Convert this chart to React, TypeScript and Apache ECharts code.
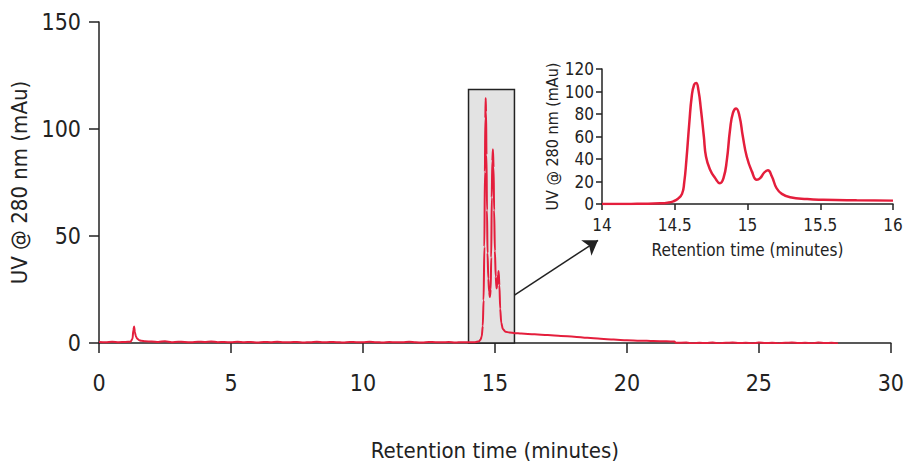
import React, { useEffect, useRef } from "react";
import * as echarts from "echarts";

// Main chromatogram (retention time in minutes, UV in mAu)
const mainTime = [
  0, 0.25, 0.5, 0.75, 1.0, 1.2, 1.27, 1.3, 1.33, 1.36, 1.4, 1.45, 1.52, 1.6, 1.75,
  2.0, 2.25, 2.5, 2.75, 3.0, 3.25, 3.5, 3.75, 4.0, 4.25, 4.5, 4.75, 5.0, 5.25, 5.5, 5.75,
  6.0, 6.25, 6.5, 6.75, 7.0, 7.25, 7.5, 7.75, 8.0, 8.25, 8.5, 8.75, 9.0, 9.25, 9.5, 9.75,
  10.0, 10.25, 10.5, 10.75, 11.0, 11.25, 11.5, 11.75, 12.0, 12.25, 12.5, 12.75, 13.0, 13.25,
  13.5, 13.75, 14.0, 14.25, 14.4, 14.45, 14.5, 14.54, 14.57, 14.6, 14.62, 14.635, 14.65,
  14.665, 14.68, 14.7, 14.72, 14.75, 14.78, 14.81, 14.84, 14.86, 14.88, 14.9, 14.925, 14.95,
  14.97, 15.0, 15.03, 15.06, 15.09, 15.12, 15.14, 15.17, 15.2, 15.24, 15.3, 15.4, 15.55,
  15.75, 16.0, 16.5, 17.0, 17.5, 18.0, 18.5, 19.0, 19.5, 20.0, 20.5, 21.0, 21.5, 21.8,
  21.85, 22.25, 22.5, 22.75, 23.0, 23.25, 23.5, 23.75, 24.0, 24.25, 24.5, 24.75, 25.0,
  25.25, 25.5, 25.75, 26.0, 26.25, 26.5, 26.75, 27.0, 27.25, 27.5, 27.75, 28.0,
];
const mainUV = [
  0.5, 0.3, 0.6, 0.4, 0.5, 0.6, 2.0, 6.0, 7.7, 5.0, 3.0, 2.0, 1.3, 1.0, 0.8,
  0.7, 0.5, 0.8, 0.4, 0.6, 0.5, 0.3, 0.6, 0.5, 0.7, 0.4, 0.5, 0.3, 0.6, 0.4, 0.5,
  0.2, 0.5, 0.4, 0.6, 0.3, 0.4, 0.5, 0.2, 0.4, 0.6, 0.3, 0.5, 0.4, 0.2, 0.5, 0.4,
  0.3, 0.6, 0.4, 0.2, 0.5, 0.3, 0.4, 0.6, 0.3, 0.2, 0.5, 0.4, 0.3, 0.5,
  0.2, 0.4, 0.3, 0.4, 0.8, 1.5, 3, 8, 20, 45, 80, 105, 114.5,
  108, 88, 62, 42, 30, 24, 21.5, 25, 40, 68, 85, 90.5, 82,
  62, 43, 31, 25.5, 27, 32, 33.6, 27, 16, 9.5, 6.5, 5.3, 4.9,
  4.6, 4.4, 4.1, 3.7, 3.3, 2.9, 2.4, 2.0, 1.6, 1.3, 1.1, 0.9, 0.8, 0.7,
  0.1, 0.2, -0.1, 0.1, 0.0, 0.2, -0.1, 0.1, 0.2, 0.0, 0.1, -0.1, 0.2,
  0.0, 0.1, -0.2, 0.1, 0.2, 0.0, 0.1, -0.1, 0.2, 0.0, 0.1, -0.2,
];

// Inset: zoom of 14–16 min
const insetTime = [
  14.0, 14.1, 14.2, 14.3, 14.4, 14.45, 14.49, 14.52, 14.55, 14.565, 14.58, 14.6, 14.617,
  14.633, 14.647, 14.663, 14.68, 14.7, 14.715, 14.743, 14.778, 14.81, 14.835, 14.858, 14.88,
  14.9, 14.922, 14.945, 14.968, 14.995, 15.03, 15.064, 15.087, 15.115, 15.14, 15.167, 15.2,
  15.236, 15.293, 15.41, 15.52, 15.75, 16.0,
];
const insetUV = [
  0, 0, 0.1, 0.2, 0.6, 1.2, 2.4, 4.5, 9, 19, 39, 72, 96,
  106, 107.6, 101, 84, 60, 42, 30.5, 23, 18.5, 23, 39, 66,
  81, 85, 78, 60, 42, 29, 21.6, 23, 28, 30, 24.6, 14,
  9, 6, 4.4, 3.8, 3.3, 3.0,
];

const mainXTicks = { min: 0, max: 30, interval: 5 };
const mainYTicks = { min: 0, max: 150, interval: 50 };
const insetXTicks = { min: 14, max: 16, interval: 0.5 };
const insetYTicks = { min: 0, max: 120, interval: 20 };

// zoom box and arrow (data units of main chart)
const zoomBox = { x0: 14, x1: 15.74, y0: 0, y1: 118.4 };
const arrowFrom = [15.74, 22.4];
const arrowTo = [18.906, 48];

const RED = "#e41e3c";
const INK = "#222222";
const FONT = "'Liberation Sans Narrow', 'DejaVu Sans Condensed', 'Roboto', sans-serif";

export default function App() {
  const ref = useRef<HTMLDivElement>(null);
  useEffect(() => {
    if (!ref.current) return;
    const chart = echarts.init(ref.current, undefined, { renderer: "svg" });
    const mainData = mainTime.map((t, i) => [t, mainUV[i]]);
    const insetData = insetTime.map((t, i) => [t, insetUV[i]]);
    const axisLine = { lineStyle: { color: INK, width: 1.5 } };
    chart.setOption({
      animation: false,
      textStyle: { fontFamily: FONT },
      grid: [
        { left: 99, top: 22, width: 795, height: 323 },
        { left: 602, top: 69, width: 291, height: 135 },
      ],
      xAxis: [
        {
          type: "value", gridIndex: 0, ...mainXTicks,
          axisLine, axisTick: { length: 10, lineStyle: { color: INK, width: 1.5 } },
          splitLine: { show: false },
          axisLabel: { fontSize: 23, color: INK, margin: 28, fontFamily: FONT },
          name: "Retention time (minutes)", nameLocation: "middle", nameGap: 96,
          nameTextStyle: { fontSize: 22, color: INK, fontFamily: FONT },
        },
        {
          type: "value", gridIndex: 1, ...insetXTicks,
          axisLine, axisTick: { length: 6, lineStyle: { color: INK, width: 1.5 } },
          splitLine: { show: false },
          axisLabel: { fontSize: 17, color: INK, margin: 12, fontFamily: FONT },
          name: "Retention time (minutes)", nameLocation: "middle", nameGap: 37,
          nameTextStyle: { fontSize: 17, color: INK, fontFamily: FONT },
        },
      ],
      yAxis: [
        {
          type: "value", gridIndex: 0, ...mainYTicks,
          axisLine: { show: true, ...axisLine },
          axisTick: { show: true, length: 10, lineStyle: { color: INK, width: 1.5 } },
          splitLine: { show: false },
          axisLabel: { fontSize: 23, color: INK, margin: 18, fontFamily: FONT },
          name: "UV @ 280 nm (mAu)", nameLocation: "middle", nameGap: 52, nameRotate: 90,
          nameTextStyle: { fontSize: 22, color: INK, fontFamily: FONT },
        },
        {
          type: "value", gridIndex: 1, ...insetYTicks,
          axisLine: { show: true, ...axisLine },
          axisTick: { show: true, length: 6, lineStyle: { color: INK, width: 1.5 } },
          splitLine: { show: false },
          axisLabel: { fontSize: 17, color: INK, margin: 8, fontFamily: FONT },
          name: "UV @ 280 nm (mAu)", nameLocation: "middle", nameGap: 38, nameRotate: 90,
          nameTextStyle: { fontSize: 16, color: INK, fontFamily: FONT },
        },
      ],
      series: [
        {
          type: "line", xAxisIndex: 0, yAxisIndex: 0, data: mainData,
          showSymbol: false, smooth: 0.3, smoothMonotone: "x",
          lineStyle: { color: RED, width: 2 },
          markArea: {
            silent: true,
            itemStyle: { color: "#e3e3e3", borderColor: INK, borderWidth: 1.5 },
            data: [[{ coord: [zoomBox.x0, zoomBox.y0] }, { coord: [zoomBox.x1, zoomBox.y1] }]],
          },
          markLine: {
            silent: true,
            symbol: ["none", "arrow"],
            symbolSize: 14,
            label: { show: false },
            itemStyle: { color: INK },
            lineStyle: { color: INK, width: 1.5, type: "solid" },
            data: [[{ coord: arrowFrom }, { coord: arrowTo }]],
          },
        },
        {
          type: "line", xAxisIndex: 1, yAxisIndex: 1, data: insetData,
          showSymbol: false, smooth: 0.5,
          lineStyle: { color: RED, width: 2.5 },
        },
      ],
    });
    return () => chart.dispose();
  }, []);
  return (
    <div
      ref={ref}
      style={{ position: "fixed", left: 0, top: 0, width: 907, height: 466, background: "#fff" }}
    />
  );
}
